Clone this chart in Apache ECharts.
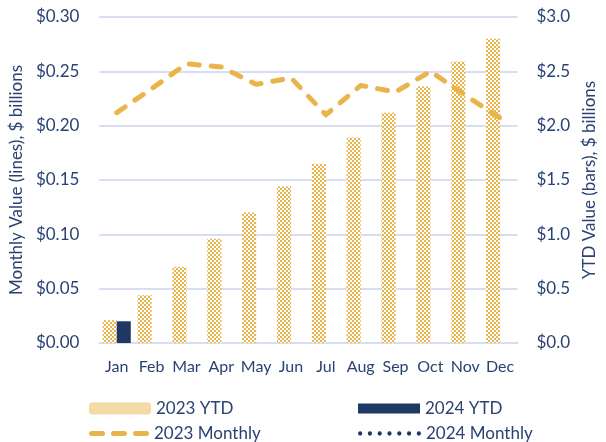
<!DOCTYPE html>
<html>
<head>
<meta charset="utf-8">
<script src="https://cdn.jsdelivr.net/npm/echarts@6/dist/echarts.min.js"></script>
<style>
  html, body { margin: 0; padding: 0; background: #fff; }
  #chart { width: 606px; height: 442px; }
</style>
</head>
<body>
<div id="chart"></div>
<script>
const months = ['Jan', 'Feb', 'Mar', 'Apr', 'May', 'Jun', 'Jul', 'Aug', 'Sep', 'Oct', 'Nov', 'Dec']
// YTD values, $ billions (right axis)
const ytd2023 = [0.21, 0.44, 0.70, 0.96, 1.20, 1.44, 1.65, 1.89, 2.12, 2.36, 2.59, 2.80]
const ytd2024 = [0.20]
// monthly values, $ billions (left axis)
const monthly2023 = [0.212, 0.234, 0.257, 0.254, 0.238, 0.244, 0.210, 0.237, 0.231, 0.250, 0.228, 0.207]
const monthly2024 = [0.020]

const gold = '#E9B54A'
const navy = '#203864'
const textColor = '#2A4273'
const gridColor = '#D6DEEF'
const font = 'Lato'

// checker pattern for the 2023 YTD bars
function checker(size) {
  const c = document.createElement('canvas')
  c.width = size * 2
  c.height = size * 2
  const ctx = c.getContext('2d')
  ctx.fillStyle = '#fff'
  ctx.fillRect(0, 0, size * 2, size * 2)
  ctx.fillStyle = gold
  ctx.fillRect(0, 0, size, size)
  ctx.fillRect(size, size, size, size)
  return { image: c, repeat: 'repeat' }
}

// legend icons: three rounded dashes, seven dots
function pill(x, w, h) {
  const r = h / 2
  return `M${x + r} 0L${x + w - r} 0A${r} ${r} 0 0 1 ${x + w - r} ${h}L${x + r} ${h}A${r} ${r} 0 0 1 ${x + r} 0Z`
}
function dot(cx, r) {
  return `M${cx - r} ${r}A${r} ${r} 0 1 0 ${cx + r} ${r}A${r} ${r} 0 1 0 ${cx - r} ${r}Z`
}
const dashIcon = 'path://' + [0, 22, 44].map(x => pill(x, 16, 5)).join('')
const dotIcon = 'path://' + [0, 1, 2, 3, 4, 5, 6].map(i => dot(2.2 + i * 10, 2.2)).join('')

const chart = echarts.init(document.getElementById('chart'))

const legendText = { color: textColor, fontSize: 17, fontFamily: font }
function legendFor(name, left, top, w, h, extra) {
  return Object.assign({
    left: left, top: top, itemWidth: w, itemHeight: h, itemGap: 0,
    padding: 0, selectedMode: false,
    textStyle: legendText,
    data: [name]
  }, extra || {})
}

chart.setOption({
  animation: false,
  backgroundColor: '#fff',
  textStyle: { fontFamily: font },
  grid: { left: 96, right: 86, top: 17, bottom: 99 },
  legend: [
    legendFor('2023 YTD', 89, 400, 62, 12, {
      data: [{ name: '2023 YTD', itemStyle: { color: checker(1) } }]
    }),
    legendFor('2024 YTD', 358, 400, 62, 10, {
      data: [{ name: '2024 YTD', icon: 'rect' }]
    }),
    legendFor('2023 Monthly', 89, 425, 60, 5, {
      data: [{ name: '2023 Monthly', icon: dashIcon }]
    }),
    legendFor('2024 Monthly', 358, 425, 63, 4.4, {
      data: [{ name: '2024 Monthly', icon: dotIcon }]
    })
  ],
  xAxis: {
    type: 'category',
    data: months,
    axisLine: { lineStyle: { color: gridColor, width: 2 } },
    axisTick: { show: false },
    axisLabel: { color: textColor, fontSize: 16, fontFamily: font, margin: 16, interval: 0 }
  },
  yAxis: [
    {
      type: 'value',
      min: 0, max: 0.3, interval: 0.05,
      name: 'Monthly Value (lines), $ billions',
      nameLocation: 'middle',
      nameGap: 72,
      nameTextStyle: { color: textColor, fontSize: 17, fontFamily: font },
      axisLine: { show: false },
      axisTick: { show: false },
      axisLabel: { color: textColor, fontSize: 17, fontFamily: font, margin: 20,
        formatter: v => '$' + v.toFixed(2) },
      splitLine: { lineStyle: { color: gridColor, width: 2 } }
    },
    {
      type: 'value',
      min: 0, max: 3, interval: 0.5,
      name: 'YTD Value (bars), $ billions',
      nameLocation: 'middle',
      nameGap: 62,
      nameTextStyle: { color: textColor, fontSize: 17, fontFamily: font },
      axisLine: { show: false },
      axisTick: { show: false },
      axisLabel: { color: textColor, fontSize: 17, fontFamily: font, margin: 19,
        formatter: v => '$' + v.toFixed(1) },
      splitLine: { show: false }
    }
  ],
  series: [
    {
      name: '2023 YTD',
      type: 'bar',
      yAxisIndex: 1,
      barWidth: 14,
      barGap: '0%',
      itemStyle: { color: checker(2) },
      data: ytd2023
    },
    {
      name: '2024 YTD',
      type: 'bar',
      yAxisIndex: 1,
      barWidth: 14,
      barGap: '0%',
      itemStyle: { color: navy },
      data: ytd2024
    },
    {
      name: '2023 Monthly',
      type: 'line',
      yAxisIndex: 0,
      symbol: 'none',
      itemStyle: { color: gold },
      lineStyle: { color: gold, width: 5, type: [10, 12], cap: 'round', join: 'round' },
      data: monthly2023
    },
    {
      name: '2024 Monthly',
      type: 'line',
      yAxisIndex: 0,
      symbol: 'none',
      itemStyle: { color: navy },
      lineStyle: { color: navy, width: 4, type: [0.1, 8], cap: 'round' },
      data: monthly2024
    }
  ]
})
</script>
</body>
</html>
